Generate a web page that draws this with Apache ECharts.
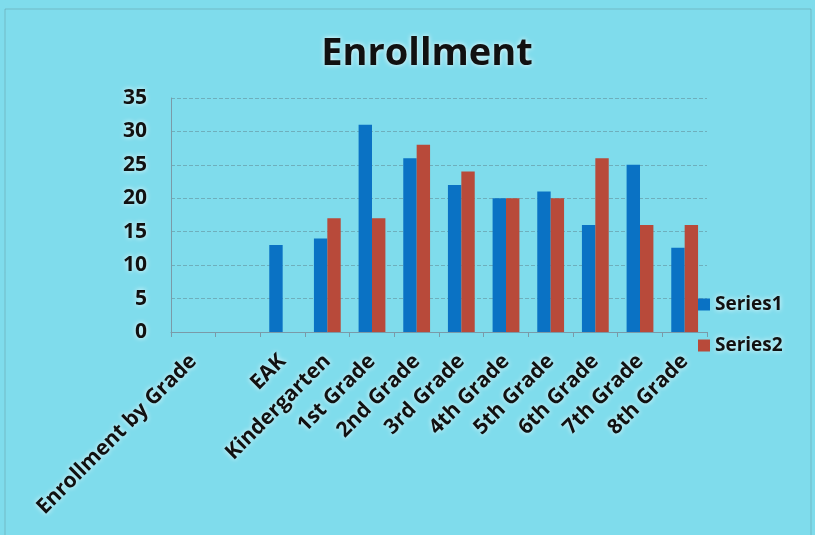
<!DOCTYPE html>
<html>
<head>
<meta charset="utf-8">
<script src="https://cdn.jsdelivr.net/npm/echarts@6/dist/echarts.min.js"></script>
<style>
html,body{margin:0;padding:0;background:#7fdcec;}
#c{width:815px;height:535px;}
</style>
</head>
<body>
<div id="c"></div>
<script>
var categories = ["Enrollment by Grade", "", "EAK", "Kindergarten", "1st Grade", "2nd Grade", "3rd Grade", "4th Grade", "5th Grade", "6th Grade", "7th Grade", "8th Grade"];
var series1 = [null, null, 13, 14, 31, 26, 22, 20, 21, 16, 25, 12.6];
var series2 = [null, null, null, 17, 17, 28, 24, 20, 20, 26, 16, 16];
var yTicks = [0, 5, 10, 15, 20, 25, 30, 35];

var chart = echarts.init(document.getElementById('c'));
var glow = {textShadowColor: 'rgba(255,255,255,0.95)', textShadowBlur: 5};
chart.setOption({
  backgroundColor: '#7fdcec',
  animation: false,
  title: {
    text: 'Enrollment', left: 422, top: 30, textAlign: 'center',
    textStyle: Object.assign({fontFamily: 'Open Sans', fontWeight: 'bold', fontSize: 38, color: '#111'}, glow)
  },
  legend: {
    orient: 'vertical', left: 693, top: 290, itemGap: 22,
    itemWidth: 12, itemHeight: 12, icon: 'rect',
    textStyle: Object.assign({fontFamily: 'Open Sans', fontWeight: 'bold', fontSize: 19, color: '#111'}, glow),
    data: ['Series1', 'Series2']
  },
  grid: {left: 171, right: 108, top: 98, bottom: 203},
  xAxis: {
    type: 'category', data: categories,
    axisLine: {lineStyle: {color: '#7a9aa8'}},
    axisTick: {show: true, lineStyle: {color: '#7a9aa8'}},
    axisLabel: Object.assign({rotate: 45, interval: 0, margin: 26, fontFamily: 'Open Sans', fontWeight: 'bold', fontSize: 21, color: '#111'}, glow)
  },
  yAxis: {
    type: 'value', min: 0, max: 35, interval: 5,
    axisLine: {show: true, lineStyle: {color: '#7a9aa8'}},
    splitLine: {lineStyle: {color: 'rgba(90,120,130,0.45)', type: 'dashed'}},
    axisLabel: Object.assign({margin: 24, fontFamily: 'Open Sans', fontWeight: 'bold', fontSize: 21, color: '#111',
      formatter: function(v){ return yTicks.indexOf(v) >= 0 ? String(v) : ''; }}, glow)
  },
  series: [
    {name: 'Series1', type: 'bar', data: series1, barGap: '0%', barCategoryGap: '40%', itemStyle: {color: '#0a72c4'}},
    {name: 'Series2', type: 'bar', data: series2, barGap: '0%', barCategoryGap: '40%', itemStyle: {color: '#b84a3a'}}
  ],
  graphic: [{type: 'rect', shape: {x: 5, y: 9, width: 806, height: 530}, style: {fill: 'none', stroke: 'rgba(90,120,130,0.35)', lineWidth: 1}}]
});
</script>
</body>
</html>
